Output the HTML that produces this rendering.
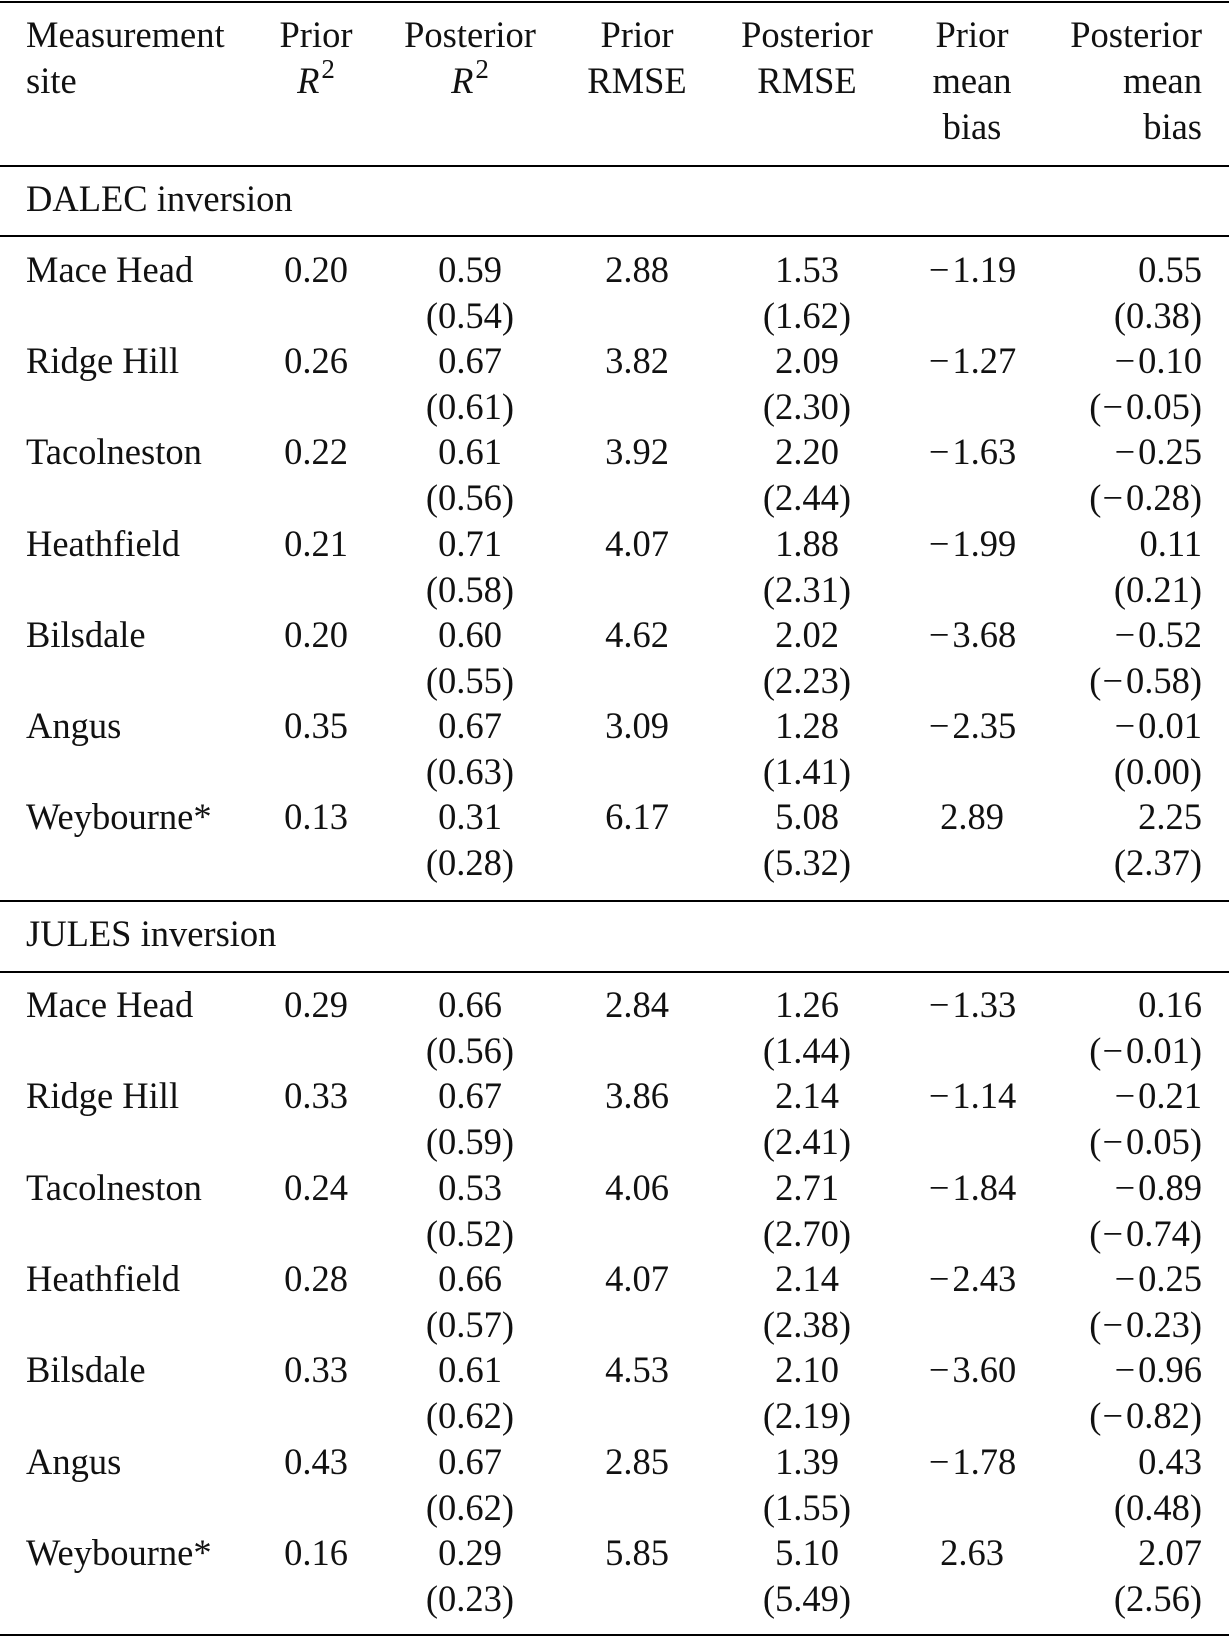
<!DOCTYPE html>
<html><head><meta charset="utf-8"><style>
body{margin:0;background:#fff;}
#t{position:relative;width:1229px;height:1639px;overflow:hidden;font-family:"Liberation Serif",serif;font-size:36.5px;color:#111;}
.c{position:absolute;height:46px;line-height:46px;white-space:nowrap;}
.rule{position:absolute;left:0;width:1229px;background:#000;}
.m{margin-right:3px;margin-left:1px;}
</style></head><body>
<div id="t"></div>
<script>
const sup="<i>R</i><sup style='font-size:27px;vertical-align:15px;line-height:0;margin-left:2px'>2</sup>";
const headers=[["Measurement","site"],["Prior",sup],["Posterior",sup],["Prior","RMSE"],["Posterior","RMSE"],["Prior","mean","bias"],["Posterior","mean","bias"]];
const sites=["Mace Head","Ridge Hill","Tacolneston","Heathfield","Bilsdale","Angus","Weybourne*"];
const dalec=[
["0.20","0.59","(0.54)","2.88","1.53","(1.62)","−1.19","0.55","(0.38)"],
["0.26","0.67","(0.61)","3.82","2.09","(2.30)","−1.27","−0.10","(−0.05)"],
["0.22","0.61","(0.56)","3.92","2.20","(2.44)","−1.63","−0.25","(−0.28)"],
["0.21","0.71","(0.58)","4.07","1.88","(2.31)","−1.99","0.11","(0.21)"],
["0.20","0.60","(0.55)","4.62","2.02","(2.23)","−3.68","−0.52","(−0.58)"],
["0.35","0.67","(0.63)","3.09","1.28","(1.41)","−2.35","−0.01","(0.00)"],
["0.13","0.31","(0.28)","6.17","5.08","(5.32)","2.89","2.25","(2.37)"]];
const jules=[
["0.29","0.66","(0.56)","2.84","1.26","(1.44)","−1.33","0.16","(−0.01)"],
["0.33","0.67","(0.59)","3.86","2.14","(2.41)","−1.14","−0.21","(−0.05)"],
["0.24","0.53","(0.52)","4.06","2.71","(2.70)","−1.84","−0.89","(−0.74)"],
["0.28","0.66","(0.57)","4.07","2.14","(2.38)","−2.43","−0.25","(−0.23)"],
["0.33","0.61","(0.62)","4.53","2.10","(2.19)","−3.60","−0.96","(−0.82)"],
["0.43","0.67","(0.62)","2.85","1.39","(1.55)","−1.78","0.43","(0.48)"],
["0.16","0.29","(0.23)","5.85","5.10","(5.49)","2.63","2.07","(2.56)"]];
const T=document.getElementById('t');
const centers=[316,470,637,807,972];
function fmt(s){return s.replace(/−/g,"<span class='m'>−</span>");}
function cell(html,x,cy,align,name){
  const d=document.createElement('div');
  d.className='c';
  d.innerHTML=fmt(html);
  d.style.top=(cy-23)+'px';
  if(align==='l'){d.style.left=x+'px';}
  else if(align==='r'){d.style.right=(1229-x)+'px';}
  else{d.style.left=(x-150)+'px';d.style.width='300px';d.style.textAlign='center';}
  
  
  T.appendChild(d);
}
function rule(y,h,name){
  const r=document.createElement('div');
  r.className='rule';
  r.style.top=y+'px';r.style.height=h+'px';
  
  
  T.appendChild(r);
}
rule(1,2,'top-rule');
rule(165,1.5,'header-rule');
headers.forEach((h,i)=>h.forEach((ln,j)=>{
  const cy=34.5+46*j;
  if(i===0)cell(ln,26,cy,'l','column-header');
  else if(i===6)cell(ln,1202,cy,'r','column-header');
  else cell(ln,centers[i-1],cy,'c','column-header');
}));
function section(title,ty,ruleY,firstY,data,prefix){
  cell(title,26,ty,'l',prefix+'-section-title');
  rule(ruleY,1.5,prefix+'-section-rule');
  data.forEach((r,i)=>{
    const cy=firstY+91.3*i, cy2=cy+46;
    cell(sites[i],26,cy,'l','site-name');
    cell(r[0],centers[0],cy,'c','prior-r2');
    cell(r[1],centers[1],cy,'c','posterior-r2');
    cell(r[2],centers[1],cy2,'c','posterior-r2-alt');
    cell(r[3],centers[2],cy,'c','prior-rmse');
    cell(r[4],centers[3],cy,'c','posterior-rmse');
    cell(r[5],centers[3],cy2,'c','posterior-rmse-alt');
    cell(r[6],centers[4],cy,'c','prior-mean-bias');
    cell(r[7],1202,cy,'r','posterior-mean-bias');
    cell(r[8],1202,cy2,'r','posterior-mean-bias-alt');
  });
}
section('DALEC inversion',198.5,235,269.6,dalec,'dalec');
rule(900,1.5,'section-divider');
section('JULES inversion',934,971,1005,jules,'jules');
rule(1634,2,'bottom-rule');
</script>
</body></html>
